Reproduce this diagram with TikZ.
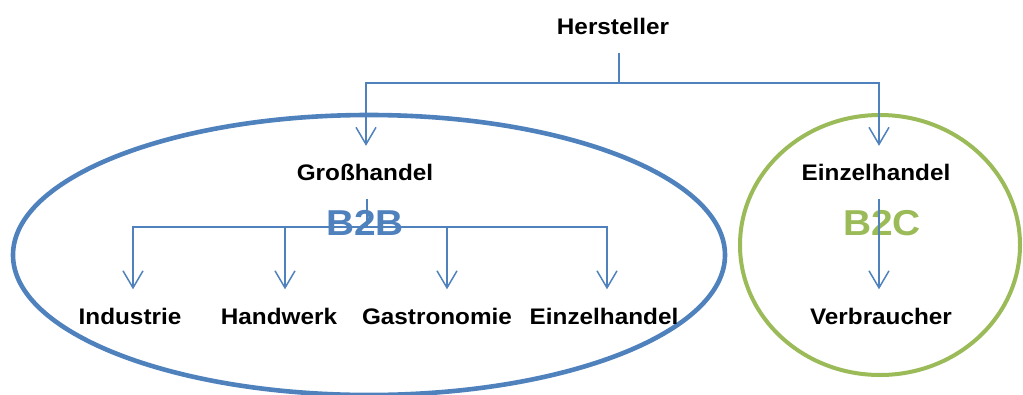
\documentclass[tikz,border=0pt]{standalone}
\usepackage{fontspec}
\setmainfont{Liberation Sans}[FakeStretch=1.08]
\usetikzlibrary{arrows.meta}
\definecolor{bblue}{HTML}{4F81BD}
\definecolor{bgreen}{HTML}{9BBB59}
\begin{document}
\begin{tikzpicture}[x=1pt,y=-1pt,
  lbl/.style={inner sep=0pt, minimum height=53pt, text height=16pt, text depth=0pt,
    font=\fontsize{22.5}{26}\selectfont\bfseries},
  big/.style={inner sep=0pt, font=\fontsize{36}{40}\selectfont\bfseries},
  conn/.style={draw=bblue, line width=1.5pt},
  arr/.style={conn, -{Straight Barb[length=17pt,width=20pt]}}]
\useasboundingbox (0,0) rectangle (1023,394);
% groups
\draw[bblue, line width=4.6pt] (369,255) ellipse [x radius=356, y radius=140];
\draw[bgreen, line width=4pt] (880,245) ellipse [x radius=140, y radius=130];
\node[big, text=bblue] (b2b) at (365,223) {B2B};
\node[big, text=bgreen] (b2c) at (882,223) {B2C};
% labels
\node[lbl] (hers) at (613,26.5) {Hersteller};
\node[lbl] (gross) at (365,172.5) {Großhandel};
\node[lbl] (einzr) at (876,172.5) {Einzelhandel};
\node[lbl] (ind) at (130,316) {Industrie};
\node[lbl] (hand) at (279,316) {Handwerk};
\node[lbl] (gast) at (437,316) {Gastronomie};
\node[lbl] (einzl) at (604,316) {Einzelhandel};
\node[lbl] (verb) at (881,316) {Verbraucher};
% junctions
\coordinate (j0) at (619,83);
\coordinate (j1) at (367,227);
% connectors
\draw[conn] ([xshift=6pt]hers.south) -- (j0);
\draw[arr] (j0) -| ([xshift=1pt]gross.north);
\draw[arr] (j0) -| ([xshift=3pt]einzr.north);
\draw[conn] ([xshift=2pt]gross.south) -- (j1);
\draw[arr] (j1) -| ([xshift=3pt]ind.north);
\draw[arr] (j1) -| ([xshift=6pt]hand.north);
\draw[arr] (j1) -| ([xshift=10pt]gast.north);
\draw[arr] (j1) -| ([xshift=3pt]einzl.north);
\draw[arr] ([xshift=3pt]einzr.south) -- ([xshift=-2pt]verb.north);
\end{tikzpicture}
\end{document}
